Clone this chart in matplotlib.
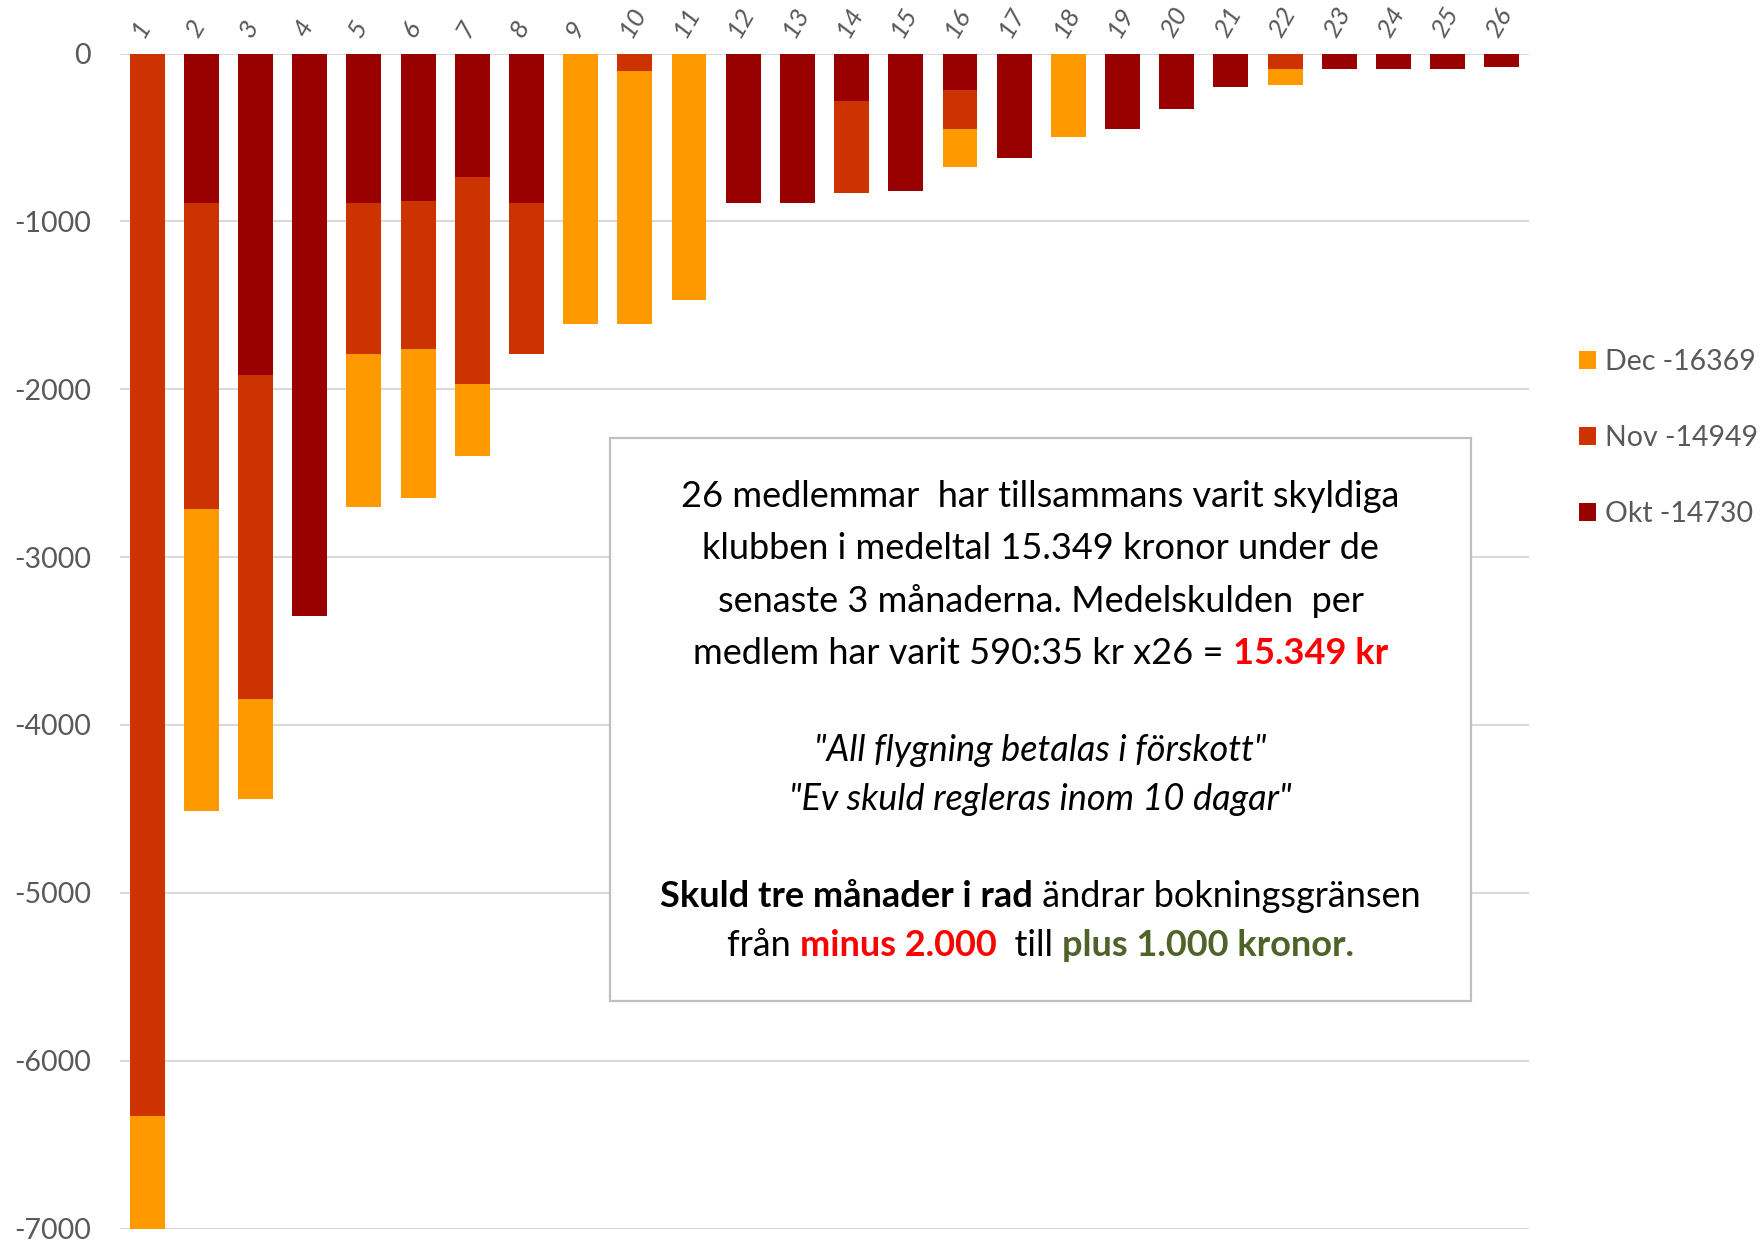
import matplotlib
matplotlib.use("Agg")
import matplotlib.pyplot as plt
from matplotlib.patches import Rectangle
from matplotlib.font_manager import FontProperties
import numpy as np

# ---------------- data ----------------
members = [str(i) for i in range(1, 27)]
okt = [0, -889, -1915, -3352, -889, -879, -734, -889, 0, 0, 0, -893, -893,
       -282, -819, -219, -622, 0, -447, -332, -199, 0, -93, -93, -93, -83]
nov = [-6329, -1822, -1933, 0, -902, -883, -1234, -902, 0, -102, 0, 0, 0,
       -547, 0, -228, 0, 0, 0, 0, 0, -95, 0, 0, 0, 0]
dec = [-6339, -1800, -591, 0, -909, -888, -430, 0, -1613, -1511, -1470, 0, 0,
       0, 0, -229, 0, -497, 0, 0, 0, -92, 0, 0, 0, 0]
series_names = ["Okt", "Nov", "Dec"]
series_totals = [-14730, -14949, -16369]
colors = {"Okt": "#990000", "Nov": "#CC3300", "Dec": "#FF9900"}
yticks = [0, -1000, -2000, -3000, -4000, -5000, -6000, -7000]

W, H = 1760, 1241
FONT = "Lato"
plt.rcParams['font.family'] = [FONT, 'DejaVu Sans']

fig = plt.figure(figsize=(W / 100, H / 100), dpi=100)
ax = fig.add_axes([120 / W, 1 - 1228.6 / H, (1529 - 120) / W, (1228.6 - 53.5) / H])

x = np.arange(len(members))
okt_a, nov_a, dec_a = np.array(okt), np.array(nov), np.array(dec)
bw = 0.645
b_okt = ax.bar(x, okt_a, bw, color=colors["Okt"], label=f"Okt {series_totals[0]}", zorder=2)
b_nov = ax.bar(x, nov_a, bw, bottom=okt_a, color=colors["Nov"], label=f"Nov {series_totals[1]}", zorder=2)
b_dec = ax.bar(x, dec_a, bw, bottom=okt_a + nov_a, color=colors["Dec"], label=f"Dec {series_totals[2]}", zorder=2)

ax.set_xlim(-0.5, len(members) - 0.5)
ax.set_ylim(-7000, 0)
ax.set_yticks(yticks)
ax.set_yticklabels([str(v) for v in yticks])
ax.yaxis.grid(True, color="#D9D9D9", linewidth=1.5, zorder=0)
ax.set_axisbelow(True)
for s in ax.spines.values():
    s.set_visible(False)
ax.tick_params(axis='y', length=0, pad=21, labelsize=20.5, labelcolor="#595959")
ax.set_xticks(x)
ax.set_xticklabels(members)
ax.tick_params(axis='x', length=0, top=True, labeltop=True, bottom=False,
               labelbottom=False, pad=9, labelsize=19, labelcolor="#595959")
for lab in ax.get_xticklabels():
    lab.set_rotation(60)
    lab.set_ha('left')
    lab.set_va('bottom')
    lab.set_rotation_mode('anchor')
    lab.set_fontstyle('italic')

# ---------------- legend ----------------
leg = ax.legend(handles=[b_dec, b_nov, b_okt], loc='center left',
                bbox_to_anchor=(1579 / W, 1 - 438 / H), bbox_transform=fig.transFigure,
                frameon=False, fontsize=20.5, handlelength=0.6, handleheight=0.6,
                handletextpad=0.3, labelspacing=1.75, borderpad=0, borderaxespad=0)
for t in leg.get_texts():
    t.set_color("#595959")

# ---------------- text box ----------------
bx0, bx1, by0, by1 = 610, 1471, 438, 1001
fig.add_artist(Rectangle((bx0 / W, 1 - by1 / H), (bx1 - bx0) / W, (by1 - by0) / H,
                         transform=fig.transFigure, facecolor="white",
                         edgecolor="#BFBFBF", linewidth=1.6, zorder=3))

BLACK, RED, GREEN = "#000000", "#FF0000", "#4F6228"
lines = [
    (507, [("26 medlemmar  har tillsammans varit skyldiga", BLACK, "normal", "normal")]),
    (559, [("klubben i medeltal 15.349 kronor under de", BLACK, "normal", "normal")]),
    (612, [("senaste 3 månaderna. Medelskulden  per", BLACK, "normal", "normal")]),
    (664, [("medlem har varit 590:35 kr x26 = ", BLACK, "normal", "normal"),
           ("15.349 kr", RED, "bold", "normal")]),
    (761, [('"All flygning betalas i förskott"', BLACK, "normal", "italic")]),
    (810, [('"Ev skuld regleras inom 10 dagar"', BLACK, "normal", "italic")]),
    (907, [("Skuld tre månader i rad", BLACK, "bold", "normal"),
           (" ändrar bokningsgränsen", BLACK, "normal", "normal")]),
    (956, [("från ", BLACK, "normal", "normal"),
           ("minus 2.000", RED, "bold", "normal"),
           ("  till ", BLACK, "normal", "normal"),
           ("plus 1.000 kronor.", GREEN, "bold", "normal")]),
]
TSIZE = 26
renderer = fig.canvas.get_renderer()


def seg_w(s, fp):
    w1 = renderer.get_text_width_height_descent("|" + s + "|", fp, ismath=False)[0]
    w2 = renderer.get_text_width_height_descent("||", fp, ismath=False)[0]
    return w1 - w2


cx = (bx0 + bx1) / 2
for ybase, segs in lines:
    fps = [FontProperties(family=[FONT, 'DejaVu Sans'], size=TSIZE, weight=wt, style=st)
           for (_, _, wt, st) in segs]
    widths = [seg_w(s, fp) for (s, _, _, _), fp in zip(segs, fps)]
    xpos = cx - sum(widths) / 2
    for (s, c, wt, st), fp, w in zip(segs, fps, widths):
        fig.text(xpos / W, 1 - ybase / H, s, color=c, fontproperties=fp,
                 ha='left', va='baseline', zorder=4)
        xpos += w

fig.savefig("out.png", dpi=100, facecolor="white")
